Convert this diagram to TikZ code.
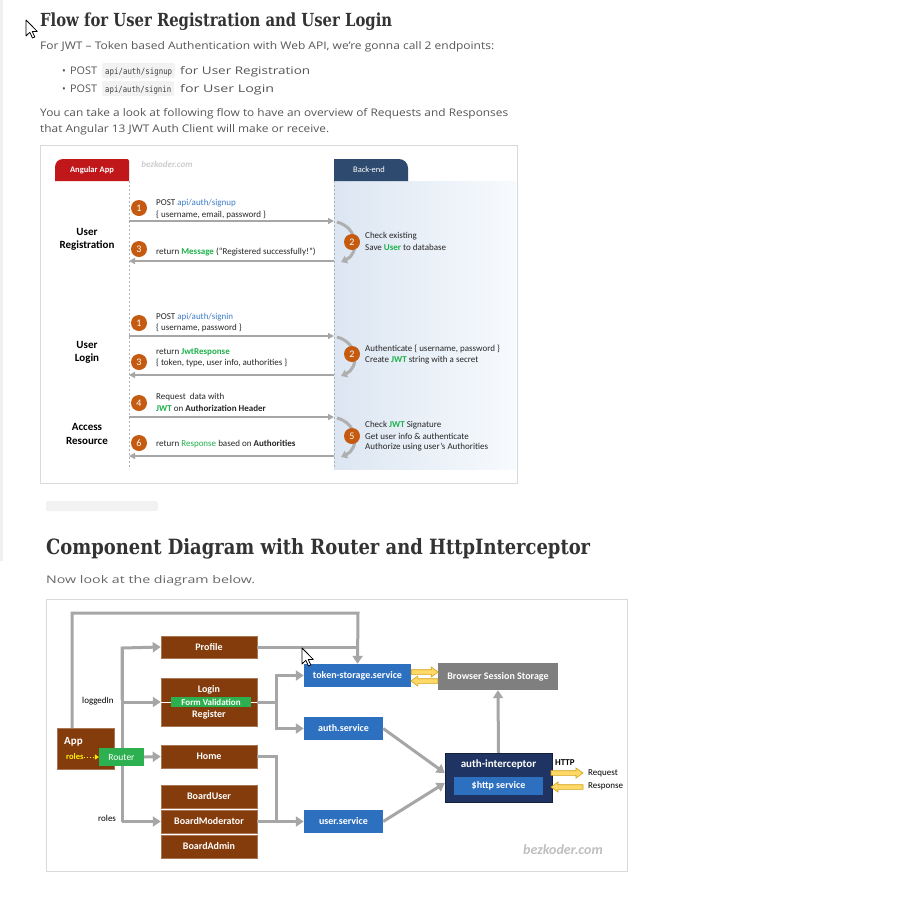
\documentclass[tikz,border=0pt]{standalone}
\usepackage{fontspec}
\usepackage{graphicx}
\setmainfont{Open Sans}
\newfontfamily\hfont{DejaVu Serif}
\newfontfamily\cfont{Carlito}
\newfontfamily\mfont{DejaVu Sans Mono}
\usetikzlibrary{arrows.meta,calc}
\definecolor{txt}{HTML}{555555}
\definecolor{head}{HTML}{333333}
\definecolor{angred}{HTML}{C0171B}
\definecolor{benavy}{HTML}{2E4A6E}
\definecolor{bel}{HTML}{DCE6F2}
\definecolor{ber}{HTML}{F7FAFD}
\definecolor{circ}{HTML}{C55A11}
\definecolor{arr}{HTML}{A6A6A6}
\definecolor{lblue}{HTML}{3D7CC9}
\definecolor{lgreen}{HTML}{1DB14B}
\definecolor{bbrown}{HTML}{843C0C}
\definecolor{sblue}{HTML}{2E70C0}
\definecolor{navy}{HTML}{1F3462}
\definecolor{rgreen}{HTML}{2DB04F}
\definecolor{sgray}{HTML}{7F7F7F}
\definecolor{yel}{HTML}{FFD966}
\definecolor{yelb}{HTML}{D4A017}
\definecolor{codebg}{HTML}{F2F2F2}
\newcommand\fitw[2]{\resizebox{#1pt}{\height}{#2}}
\newcommand\gb[1]{\textcolor{lgreen}{\bfseries #1}}
\tikzset{
  pt/.style={anchor=base west, inner sep=0, text=txt},
  ft/.style={anchor=west, inner sep=0, text=black!85, font=\cfont\fontsize{9}{10}\selectfont},
  lab/.style={inner sep=0, text=black, font=\cfont\bfseries\fontsize{11}{12}\selectfont},
  num/.style={circle, fill=circ, minimum size=16pt, inner sep=0, text=white, font=\cfont\fontsize{10}{10}\selectfont},
  farr/.style={draw=arr, line width=1.8pt, -{Triangle[length=6pt,width=6pt]}},
  carr/.style={draw=arr!90, line width=3pt, -{Triangle[length=6pt,width=8pt]}},
  cline/.style={draw=arr, line width=3pt},
  carrow/.style={draw=arr, line width=3pt, -{Triangle[length=8pt,width=10pt]}},
  bbox/.style={fill=bbrown, draw=bbrown!70!white, line width=0.5pt, text=white, inner sep=0, minimum width=96pt, font=\cfont\bfseries\fontsize{10}{11}\selectfont},
  sbox/.style={fill=sblue, text=white, inner sep=0, font=\cfont\bfseries\fontsize{10}{11}\selectfont},
  ctext/.style={inner sep=0, text=black, font=\cfont\fontsize{9}{10}\selectfont},
  pics/yarr/.style={code={\filldraw[fill=yel, draw=yelb, line width=0.6pt, line join=miter] (0,-2.3) -- (#1-7,-2.3) -- (#1-7,-5) -- (#1,0) -- (#1-7,5) -- (#1-7,2.3) -- (0,2.3) -- cycle;}},
  cursor/.pic={\filldraw[fill=white, draw=black, line width=0.8pt, line join=round] (0,0) -- (0,16) -- (3.8,12.3) -- (6.5,18) -- (8.8,17) -- (6.2,11.4) -- (11.3,11.4) -- cycle;}
}
\begin{document}
\begin{tikzpicture}[x=1pt,y=-1pt]
\useasboundingbox (0,0) rectangle (913,911);
\fill[white] (0,0) rectangle (913,911);
\fill[black!6] (0,0) rectangle (3,561);

% ---------- text of page, part 1 ----------
\node[pt, text=head] (h1) at (40,26) {\fitw{352}{\hfont\bfseries\fontsize{18}{20}\selectfont Flow for User Registration and User Login}};
\node[pt] (p1) at (40,49) {\fitw{454}{\fontsize{10.5}{12}\selectfont For JWT – Token based Authentication with Web API, we’re gonna call 2 endpoints:}};
\node[pt] (b1) at (62,74) {\fontsize{10}{12}\selectfont •};
\node[pt] (post1) at (70,74) {\fitw{27}{\fontsize{10.5}{12}\selectfont POST}};
\node[fill=codebg, rounded corners=2pt, minimum width=73pt, minimum height=15pt, inner sep=0] (code1) at (138.5,70.5) {};
\node[pt, text=black!75] (codet1) at (105,74) {\fitw{67}{\mfont\fontsize{8.5}{10}\selectfont api/auth/signup}};
\node[pt] (for1) at (180,74) {\fitw{130}{\fontsize{10.5}{12}\selectfont for User Registration}};
\node[pt] (b2) at (62,92) {\fontsize{10}{12}\selectfont •};
\node[pt] (post2) at (70,92) {\fitw{27}{\fontsize{10.5}{12}\selectfont POST}};
\node[fill=codebg, rounded corners=2pt, minimum width=72pt, minimum height=15pt, inner sep=0] (code2) at (138,88.5) {};
\node[pt, text=black!75] (codet2) at (105,92) {\fitw{66}{\mfont\fontsize{8.5}{10}\selectfont api/auth/signin}};
\node[pt] (for2) at (180,92) {\fitw{94}{\fontsize{10.5}{12}\selectfont for User Login}};
\node[pt] (p2) at (40,116) {\fitw{468}{\fontsize{10.5}{12}\selectfont You can take a look at following flow to have an overview of Requests and Responses}};
\node[pt] (p3) at (40,132) {\fitw{289}{\fontsize{10.5}{12}\selectfont that Angular 13 JWT Auth Client will make or receive.}};

\pic at (26,20) {cursor};

% ---------- flow diagram ----------
\draw[black!15, line width=1pt] (40,145) rectangle (517,483);
\shade[left color=bel, right color=ber] (334,181) rectangle (516,469);
\fill[angred] (55,181) [rounded corners=8pt] -- (55,159) [rounded corners=2pt] -- (129,159) [sharp corners] -- (129,181) -- cycle;
\node[inner sep=0, text=white, font=\cfont\bfseries\fontsize{8.5}{10}\selectfont] (tabA) at (92,170) {Angular App};
\fill[benavy] (334,181) [sharp corners] -- (334,159) [rounded corners=9pt] -- (408,159) [sharp corners] -- (408,181) -- cycle;
\node[inner sep=0, text=white, font=\cfont\fontsize{8.5}{10}\selectfont] (tabB) at (369,170) {Back-end};
\node[inner sep=0, text=black!20, font=\cfont\bfseries\itshape\fontsize{9}{10}\selectfont] (wm1) at (167,164) {bezkoder.com};
\draw[black!30, dash pattern=on 2pt off 2pt, line width=0.6pt] (129,181) -- (129,469);
\draw[black!30, dash pattern=on 2pt off 2pt, line width=0.6pt] (334,181) -- (334,469);

\node[lab] (lr1) at (87,232) {User};
\node[lab] (lr2) at (87,246) {Registration};
\node[lab] (ll1) at (87,345) {User};
\node[lab] (ll2) at (87,359) {Login};
\node[lab] (la1) at (87,427) {Access};
\node[lab] (la2) at (87,441) {Resource};

% lifeline coordinates
\coordinate (L1) at (129,221); \coordinate (R1) at (334,221);
\coordinate (L2) at (129,261); \coordinate (R2) at (334,261);
\coordinate (L3) at (129,336); \coordinate (R3) at (334,336);
\coordinate (L4) at (129,375); \coordinate (R4) at (334,375);
\coordinate (L5) at (129,417); \coordinate (R5) at (334,417);
\coordinate (L6) at (129,456); \coordinate (R6) at (334,456);
\draw[farr] (L1) -- (R1);
\draw[farr] (R2) -- (L2);
\draw[farr] (L3) -- (R3);
\draw[farr] (R4) -- (L4);
\draw[farr] (L5) -- (R5);
\draw[farr] (R6) -- (L6);
\draw[carr] (337,222) .. controls (359,228) and (359,254) .. (341,262);
\draw[carr] (337,337) .. controls (359,343) and (359,368) .. (341,376);
\draw[carr] (337,418) .. controls (359,424) and (359,449) .. (341,457);

\node[num] (n1) at (139,208) {1};
\node[num] (n3) at (139,249) {3};
\node[num] (n2) at (352,242) {2};
\node[num] (m1) at (139,323) {1};
\node[num] (m3) at (139,362) {3};
\node[num] (m2) at (352,354) {2};
\node[num] (k4) at (139,403) {4};
\node[num] (k6) at (139,443) {6};
\node[num] (k5) at (352,436) {5};

\node[ft] (t1) at (156,203) {POST \textcolor{lblue}{api/auth/signup}};
\node[ft] (t2) at (156,215) {\{ username, email, password \}};
\node[ft] (t3) at (156,252) {return \gb{Message} (“Registered successfully!”)};
\node[ft] (t4) at (365,236) {Check existing};
\node[ft] (t5) at (365,247) {Save \gb{User} to database};
\node[ft] (t6) at (156,317) {POST \textcolor{lblue}{api/auth/signin}};
\node[ft] (t7) at (156,328) {\{ username, password \}};
\node[ft] (t8) at (156,352) {return \gb{JwtResponse}};
\node[ft] (t9) at (156,363) {\{ token, type, user info, authorities \}};
\node[ft] (t10) at (365,349) {Authenticate \{ username, password \}};
\node[ft] (t11) at (365,360) {Create \gb{JWT} string with a secret};
\node[ft] (t12) at (156,397) {Request \ data with};
\node[ft] (t13) at (156,408) {\gb{JWT} on \textbf{Authorization Header}};
\node[ft] (t14) at (156,444) {return \textcolor{lgreen}{Response} based on \textbf{Authorities}};
\node[ft] (t15) at (365,425) {Check \gb{JWT} Signature};
\node[ft] (t16) at (365,436) {Get user info \& authenticate};
\node[ft] (t17) at (365,447) {Authorize using user’s Authorities};

\node[fill=codebg, rounded corners=2pt, minimum width=112pt, minimum height=10pt, inner sep=0] (cutbox) at (102,506) {};

% ---------- text of page, part 2 ----------
\node[pt, text=head] (h2) at (46,554) {\fitw{544}{\hfont\bfseries\fontsize{21}{24}\selectfont Component Diagram with Router and HttpInterceptor}};
\node[pt, text=black!60] (p4) at (46,583) {\fitw{209}{\fontsize{10.5}{12}\selectfont Now look at the diagram below.}};

% ---------- component diagram ----------
\draw[black!15, line width=1pt] (46,599) rectangle (627,871);

\node[bbox, minimum height=22pt] (profile) at (209,647) {Profile};
\node[bbox, minimum height=48pt] (login) at (209,702) {};
\node[inner sep=0, text=white, font=\cfont\bfseries\fontsize{10}{11}\selectfont] (logint) at (209,690) {Login};
\node[inner sep=0, text=white, font=\cfont\bfseries\fontsize{10}{11}\selectfont] (regt) at (209,715) {Register};
\draw[white, line width=0.8pt] (login.west) -- (login.east);
\node[fill=rgreen, text=white, inner sep=0, minimum width=80pt, minimum height=10pt, font=\cfont\bfseries\fontsize{9}{10}\selectfont] (formv) at (211,702) {Form Validation};
\node[bbox, minimum height=23pt] (home) at (209,756.5) {Home};
\node[bbox, minimum height=23pt] (buser) at (209,796.5) {BoardUser};
\node[bbox, minimum height=23pt] (bmod) at (209,821.5) {BoardModerator};
\node[bbox, minimum height=23pt] (badm) at (209,846.5) {BoardAdmin};

\node[sbox, minimum width=107pt, minimum height=23pt] (tok) at (357.5,675.5) {token-storage.service};
\node[fill=sgray, text=white, inner sep=0, minimum width=120pt, minimum height=27pt, font=\cfont\bfseries\fontsize{10}{11}\selectfont] (bss) at (498,676.5) {Browser Session Storage};
\node[sbox, minimum width=79pt, minimum height=23pt] (auth) at (343.5,728.5) {auth.service};
\node[sbox, minimum width=79pt, minimum height=23pt] (user) at (343.5,821.5) {user.service};

\node[fill=navy, draw=navy!60!black, inner sep=0, minimum width=107pt, minimum height=49pt] (aint) at (498.5,777.5) {};
\node[inner sep=0, text=white, font=\cfont\bfseries\fontsize{11}{12}\selectfont] (aintt) at (498.5,764) {auth-interceptor};
\node[sbox, minimum width=89pt, minimum height=18pt] (http) at (498.5,786) {\$http service};

% connectors
\coordinate (c0) at (72,613);
\coordinate (c1) at (358,613);
\coordinate (tr1) at (122,648);
\coordinate (tr2) at (122,702);
\coordinate (tr3) at (122,821.5);
\coordinate (j1) at (276,702);
\coordinate (j2) at (276,756.5);
\draw[cline] (tr1) -- (tr3);
\draw[carrow] (tr3) -- (bmod.west);
\draw[carrow] (122,700) -- (tr1) -- (profile.west);
\draw[carrow] (tr2) -- (login.west);
\draw[carrow] (72,728) -- (c0) -- (c1) -- (tok.north);
\draw[cline] (profile.east) -- (358,647);
\draw[carrow] (formv.east -| login.east) -- (j1) |- (tok.west);
\draw[carrow] (j1) |- (auth.west);
\draw[cline] (home.east) -- (j2) -- (276,821.5);
\draw[carrow] (bmod.east) -- (user.west);
\draw[carrow] (auth.east) -- ([yshift=4.5pt]aint.west);
\draw[carrow] (user.east) -- ([yshift=-5.5pt]aint.west);
\draw[carrow] (aint.north) -- (bss.south);

\node[fill=bbrown, draw=bbrown!70!white, line width=0.5pt, inner sep=0, minimum width=57pt, minimum height=41pt] (app) at (85.5,748.5) {};
\node[inner sep=0, anchor=west, text=white, font=\cfont\bfseries\fontsize{11}{12}\selectfont] (appt) at (64,742) {App};
\node[fill=rgreen, text=white, inner sep=0, minimum width=45pt, minimum height=18pt, font=\cfont\fontsize{9.5}{10}\selectfont] (router) at (121.5,757) {Router};
\node[inner sep=0, anchor=west, text=yellow, font=\cfont\bfseries\fontsize{8.5}{10}\selectfont] (roles) at (66,757) {roles};
\draw[yellow, line width=1pt, dotted, -{Triangle[length=4pt,width=5pt]}] (roles.east) -- (router.west);
\draw[carrow] (router.east) -- (home.west);

\node[ctext, anchor=west] (lgd) at (82,701) {loggedIn};
\node[ctext, anchor=west] (rls) at (98,818) {roles};

% yellow arrows between token-storage and session storage
\pic at ($(tok.east)+(0,-3.5)$) {yarr=27};
\pic[xscale=-1] at ($(bss.west)+(0,4.5)$) {yarr=27};

\node[inner sep=0, anchor=west, text=black, font=\cfont\bfseries\fontsize{9}{10}\selectfont] (httpl) at (555,763) {HTTP};
\coordinate (rq1) at (551,773);
\coordinate (rs2) at (583,787);
\pic at (rq1) {yarr=32};
\pic[xscale=-1] at (rs2) {yarr=32};
\node[ctext, anchor=west] (reql) at (588,773) {Request};
\node[ctext, anchor=west] (resl) at (588,786) {Response};

\node[inner sep=0, text=black!25, font=\cfont\bfseries\itshape\fontsize{14}{16}\selectfont] (wm2) at (563,850) {bezkoder.com};

\pic at (302,648) {cursor};
\end{tikzpicture}
\end{document}
